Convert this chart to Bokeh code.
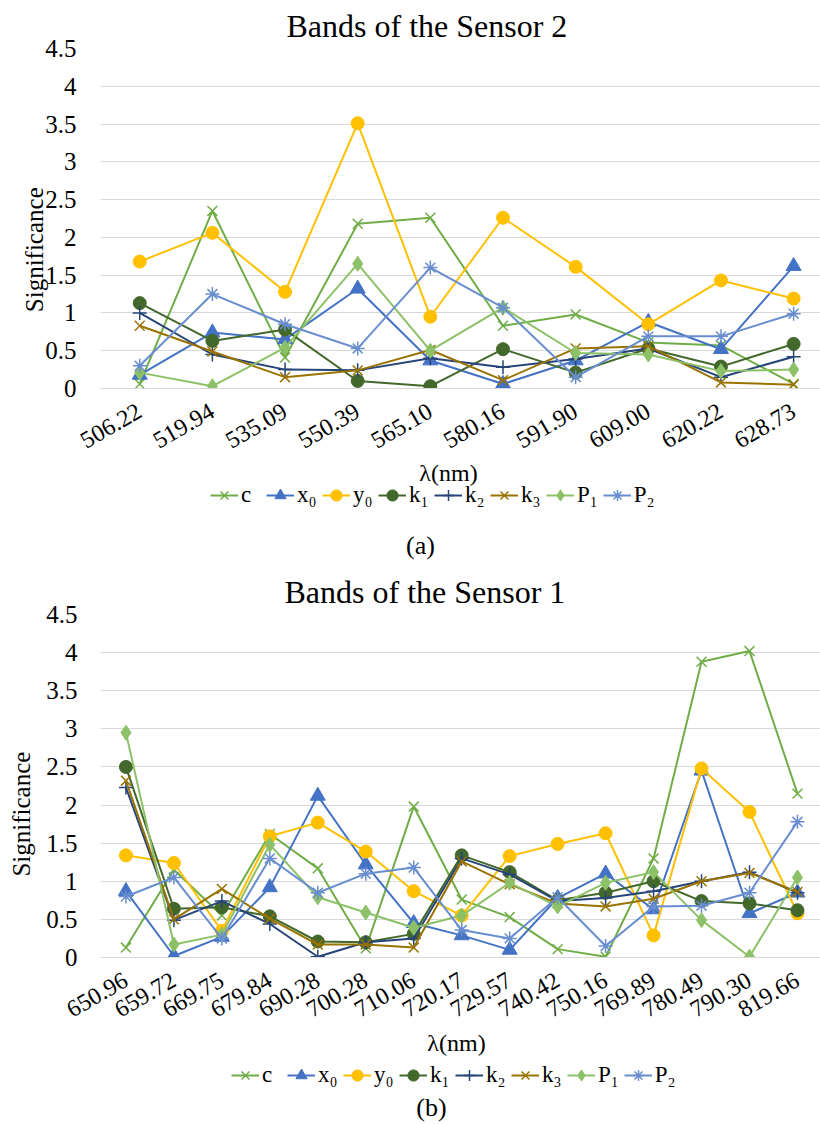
from bokeh.plotting import figure
from bokeh.models import (Range1d, Legend, LegendItem, Label, FixedTicker,
                          ColumnDataSource)
from bokeh.layouts import column
from bokeh.embed import file_html
from bokeh.resources import INLINE
import math

# ---------------- data ----------------
series_names = ["c", "x\u2080", "y\u2080", "k\u2081", "k\u2082", "k\u2083", "P\u2081", "P\u2082"]
series_colors = ["#70AD47", "#4472C4", "#FFC000", "#43682B", "#264478", "#997300", "#8CC168", "#698ED0"]
series_markers = ["x", "triangle", "circle", "circle", "cross", "x", "diamond", "asterisk"]

y_ticks = [0, 0.5, 1, 1.5, 2, 2.5, 3, 3.5, 4, 4.5]
y_tick_labels = ["0", "0.5", "1", "1.5", "2", "2.5", "3", "3.5", "4", "4.5"]

# Sensor 2 (a)
bands_s2 = ["506.22", "519.94", "535.09", "550.39", "565.10", "580.16", "591.90", "609.00", "620.22", "628.73"]
s2_c  = [0.06, 2.35, 0.41, 2.18, 2.26, 0.83, 0.98, 0.61, 0.57, 0.06]
s2_x0 = [0.18, 0.74, 0.65, 1.32, 0.37, 0.06, 0.37, 0.88, 0.52, 1.62]
s2_y0 = [1.68, 2.06, 1.28, 3.51, 0.95, 2.26, 1.61, 0.85, 1.43, 1.19]
s2_k1 = [1.13, 0.63, 0.78, 0.10, 0.03, 0.52, 0.21, 0.53, 0.29, 0.59]
s2_k2 = [1.00, 0.45, 0.25, 0.24, 0.40, 0.28, 0.39, 0.53, 0.15, 0.42]
s2_k3 = [0.83, 0.49, 0.15, 0.24, 0.51, 0.11, 0.53, 0.56, 0.08, 0.05]
s2_P1 = [0.21, 0.03, 0.54, 1.65, 0.50, 1.07, 0.47, 0.45, 0.23, 0.25]
s2_P2 = [0.30, 1.25, 0.85, 0.53, 1.60, 1.07, 0.15, 0.69, 0.69, 0.99]

# Sensor 1 (b)
bands_s1 = ["650.96", "659.72", "669.75", "679.84", "690.28", "700.28", "710.06", "720.17",
            "729.57", "740.42", "750.16", "769.89", "780.49", "790.30", "819.66"]
s1_c  = [0.13, 1.15, 0.55, 1.62, 1.17, 0.12, 1.98, 0.76, 0.53, 0.11, 0.01, 1.30, 3.88, 4.02, 2.15]
s1_x0 = [0.87, 0.02, 0.27, 0.92, 2.12, 1.22, 0.45, 0.29, 0.10, 0.78, 1.10, 0.63, 2.45, 0.58, 0.85]
s1_y0 = [1.34, 1.24, 0.35, 1.59, 1.77, 1.39, 0.87, 0.55, 1.33, 1.49, 1.63, 0.29, 2.48, 1.91, 0.58]
s1_k1 = [2.50, 0.64, 0.66, 0.54, 0.21, 0.20, 0.31, 1.34, 1.12, 0.75, 0.85, 1.00, 0.74, 0.71, 0.62]
s1_k2 = [2.23, 0.49, 0.74, 0.44, 0.01, 0.20, 0.25, 1.30, 1.09, 0.74, 0.78, 0.87, 1.00, 1.12, 0.85]
s1_k3 = [2.32, 0.50, 0.90, 0.51, 0.17, 0.17, 0.13, 1.26, 0.96, 0.71, 0.67, 0.77, 1.00, 1.11, 0.86]
s1_P1 = [2.95, 0.17, 0.30, 1.48, 0.79, 0.59, 0.39, 0.55, 0.98, 0.67, 0.98, 1.12, 0.49, 0.01, 1.05]
s1_P2 = [0.80, 1.05, 0.25, 1.30, 0.85, 1.10, 1.18, 0.36, 0.25, 0.79, 0.15, 0.67, 0.68, 0.85, 1.78]

FONT = "Liberation Serif"
TXT = "#000000"
GRID = "#D9D9D9"
NBSP = "\u00a0"


def add_series(p, idx, vals, col, mk):
    src = ColumnDataSource(dict(x=idx, y=vals))
    lr = p.line("x", "y", source=src, line_color=col, line_width=2)
    if mk in ("x", "cross", "asterisk"):
        sr = p.scatter("x", "y", source=src, marker=mk, size=14,
                       line_color=col, line_width=1.5, fill_color=None)
    else:
        sz = {"circle": 13, "triangle": 15, "diamond": 15}[mk]
        sr = p.scatter("x", "y", source=src, marker=mk, size=sz,
                       line_color=col, fill_color=col, line_width=1)
    return lr, sr


def make_chart(title_text, bands, values, height, x_start, x_end,
               border_left, border_top, border_bottom, title_offset,
               ylab_standoff, ytick_standoff, ylab_pad):
    p = figure(width=820, height=height,
               x_range=Range1d(x_start, x_end), y_range=Range1d(0, 4.5),
               output_backend="svg", toolbar_location=None,
               min_border_left=border_left, min_border_right=0,
               min_border_top=border_top, min_border_bottom=border_bottom)
    p.outline_line_color = None
    p.title.text = title_text
    p.title.align = "left"
    p.title.offset = title_offset
    p.title.text_font = FONT
    p.title.text_font_size = "32px"
    p.title.text_font_style = "normal"
    p.title.text_color = TXT

    idx = list(range(len(bands)))
    p.yaxis.ticker = FixedTicker(ticks=y_ticks)
    p.yaxis.major_label_overrides = {t: l for t, l in zip(y_ticks, y_tick_labels)}
    p.yaxis.axis_line_color = None
    p.yaxis.major_tick_line_color = None
    p.yaxis.minor_tick_line_color = None
    p.yaxis.major_label_text_font = FONT
    p.yaxis.major_label_text_font_size = "25px"
    p.yaxis.major_label_text_color = TXT
    p.yaxis.major_label_standoff = ytick_standoff
    # trailing no-break spaces lower the centred title the way the original sits
    p.yaxis.axis_label = "Significance" + NBSP * ylab_pad
    p.yaxis.axis_label_text_font = FONT
    p.yaxis.axis_label_text_font_size = "25px"
    p.yaxis.axis_label_text_font_style = "normal"
    p.yaxis.axis_label_text_color = TXT
    p.yaxis.axis_label_standoff = ylab_standoff

    p.xaxis.ticker = FixedTicker(ticks=idx)
    p.xaxis.major_label_overrides = {i: b for i, b in zip(idx, bands)}
    p.xaxis.major_label_orientation = math.pi / 6
    p.xaxis.axis_line_color = GRID
    p.xaxis.major_tick_line_color = None
    p.xaxis.minor_tick_line_color = None
    p.xaxis.major_label_text_font = FONT
    p.xaxis.major_label_text_font_size = "24px"
    p.xaxis.major_label_text_color = TXT
    p.xaxis.major_label_standoff = 15

    p.xgrid.grid_line_color = None
    p.ygrid.ticker = FixedTicker(ticks=y_ticks)
    p.ygrid.grid_line_color = GRID
    p.ygrid.grid_line_width = 1

    for col, mk, vals in zip(series_colors, series_markers, values):
        add_series(p, idx, vals, col, mk)
    return p


def make_lower_strip(height, border_left, bands, values, xlab_pos, legend_pos,
                     caption_text, cap_pos):
    # strip under each chart: x-axis title, legend (same series, kept outside
    # the visible y window so only the legend swatches show) and caption
    q = figure(width=820, height=height, x_range=Range1d(0, 1), y_range=Range1d(100, 101),
               output_backend="svg", toolbar_location=None,
               min_border=0, min_border_left=border_left, min_border_right=0,
               min_border_top=0, min_border_bottom=0)
    q.axis.visible = False
    q.grid.visible = False
    q.outline_line_color = None
    idx = list(range(len(bands)))
    items = []
    for name, col, mk, vals in zip(series_names, series_colors, series_markers, values):
        lr, sr = add_series(q, idx, vals, col, mk)
        items.append(LegendItem(label=name, renderers=[lr, sr]))
    legend = Legend(items=items, orientation="horizontal", location=legend_pos,
                    label_text_font=FONT, label_text_font_size="23px",
                    label_text_color=TXT, glyph_width=28, glyph_height=30,
                    label_standoff=3, spacing=5, padding=0, margin=0,
                    border_line_color=None, background_fill_alpha=0)
    q.add_layout(legend)
    q.add_layout(Label(x=xlab_pos[0], y=xlab_pos[1], x_units="screen", y_units="screen",
                       text="\u03bb(nm)", text_align="center", text_baseline="middle",
                       text_font=FONT, text_font_size="24px", text_color=TXT))
    q.add_layout(Label(x=cap_pos[0], y=cap_pos[1], x_units="screen", y_units="screen",
                       text=caption_text, text_align="center", text_baseline="middle",
                       text_font=FONT, text_font_size="26px", text_color=TXT))
    return q


vals_s2 = [s2_c, s2_x0, s2_y0, s2_k1, s2_k2, s2_k3, s2_P1, s2_P2]
vals_s1 = [s1_c, s1_x0, s1_y0, s1_k1, s1_k2, s1_k3, s1_P1, s1_P2]

p1 = make_chart("Bands of the Sensor 2", bands_s2, vals_s2,
                height=461, x_start=-0.54, x_end=9.37,
                border_left=100, border_top=46, border_bottom=73, title_offset=186,
                ylab_standoff=-6, ytick_standoff=18, ylab_pad=10)
l1 = make_lower_strip(105, 100, bands_s2, vals_s2,
                      xlab_pos=(348, 94), legend_pos=(110, 56),
                      caption_text="(a)", cap_pos=(320, 21))
p2 = make_chart("Bands of the Sensor 1", bands_s1, vals_s1,
                height=464, x_start=-0.53, x_end=14.48,
                border_left=89, border_top=47, border_bottom=73, title_offset=184,
                ylab_standoff=8, ytick_standoff=17, ylab_pad=9)
l2 = make_lower_strip(94, 89, bands_s1, vals_s1,
                      xlab_pos=(356, 82), legend_pos=(131, 34),
                      caption_text="(b)", cap_pos=(331, 17))

layout = column(p1, l1, p2, l2, spacing=0)
open("out.html", "w").write(file_html(layout, INLINE))
